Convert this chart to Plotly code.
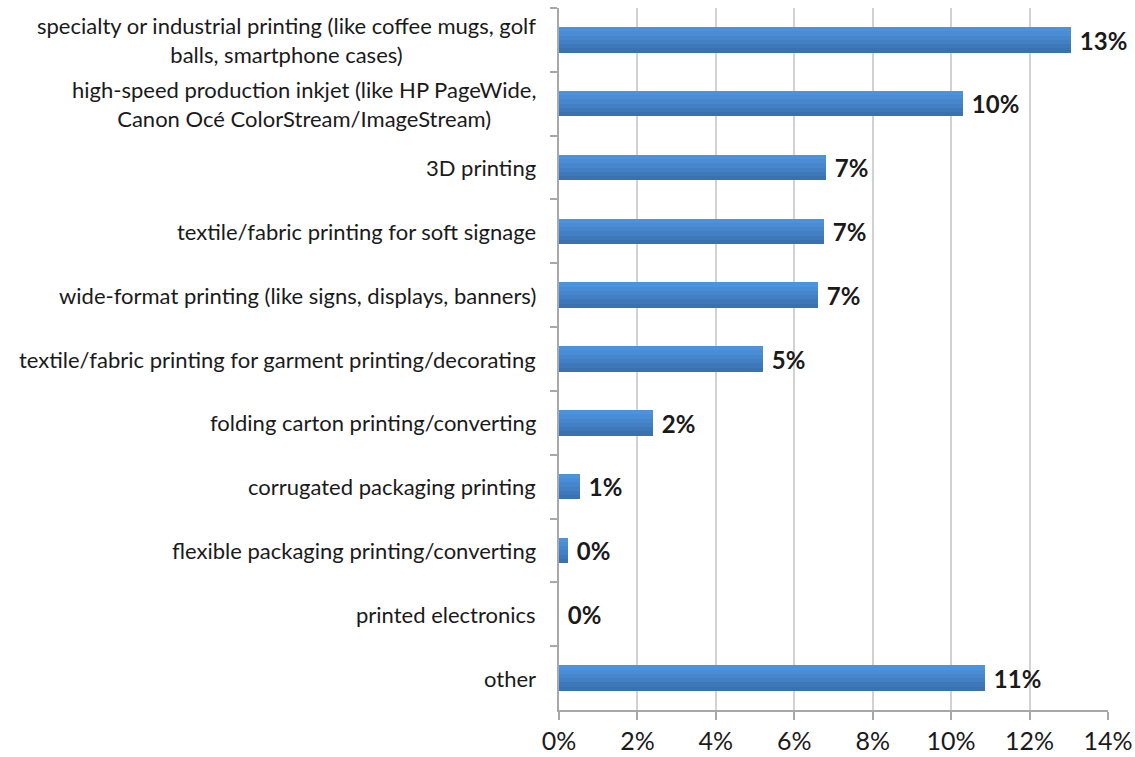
import plotly.graph_objects as go

# Share of respondents planning to add each printing type
categories = [
    "specialty or industrial printing (like coffee mugs, golf<br>balls, smartphone cases)",
    "high-speed production inkjet (like HP PageWide,<br>Canon Océ ColorStream/ImageStream)",
    "3D printing",
    "textile/fabric printing for soft signage",
    "wide-format printing (like signs, displays, banners)",
    "textile/fabric printing for garment printing/decorating",
    "folding carton printing/converting",
    "corrugated packaging printing",
    "flexible packaging printing/converting",
    "printed electronics",
    "other",
]
shares = [13.06, 10.3, 6.8, 6.75, 6.6, 5.2, 2.4, 0.54, 0.23, 0.0, 10.86]
x_ticks = [0, 2, 4, 6, 8, 10, 12, 14]
x_tick_labels = [f"{t}%" for t in x_ticks]

FONT = "Lato, 'Open Sans', sans-serif"
BAR_W = 0.40
# layered bands give the bars a light-top / dark-bottom sheen;
# each band runs from its start down to the bar's lower edge
shades = ["#4d93db", "#4a8dd4", "#4686cc", "#427fc3", "#3e78ba", "#3a71b0"]

fig = go.Figure()
n = len(shades)
step = BAR_W / n
for i, c in enumerate(shades):
    fig.add_trace(go.Bar(
        y=categories, x=shares, orientation="h",
        width=BAR_W - i * step, offset=-BAR_W / 2 + i * step,
        marker=dict(color=c, line=dict(width=0)),
        hoverinfo="skip", showlegend=False,
    ))

# value labels to the right of each bar
fig.add_trace(go.Bar(
    y=categories, x=shares, orientation="h",
    width=BAR_W, marker=dict(color="rgba(0,0,0,0)", line=dict(width=0)),
    texttemplate=" %{x:.0f}%", textposition="outside", constraintext="none",
    cliponaxis=False,
    textfont=dict(family=FONT, size=24, color="#1a1a1a", weight="bold"),
    showlegend=False,
))

# category labels, centred line by line
for cat in categories:
    fig.add_annotation(
        x=0, xref="x", y=cat, yref="y", text=cat, showarrow=False,
        xanchor="right", yanchor="middle", align="center", xshift=-21,
        font=dict(family=FONT, size=22, color="#1a1a1a"),
    )

fig.update_layout(
    width=1135, height=757,
    margin=dict(l=559, r=27, t=8, b=47, autoexpand=False),
    paper_bgcolor="white", plot_bgcolor="white",
    barmode="overlay", bargap=0,
)
fig.update_xaxes(
    range=[0, 14], tickvals=x_ticks, ticktext=x_tick_labels,
    showgrid=True, gridcolor="#d2d2d2", gridwidth=1.5,
    showline=True, linecolor="#a8a8a8", linewidth=1.5,
    ticks="outside", ticklen=8, tickcolor="#a8a8a8", tickwidth=1.5,
    tickfont=dict(family=FONT, size=25, color="#1a1a1a"),
    zeroline=False, fixedrange=True, automargin=False,
)
fig.update_yaxes(
    type="category", categoryorder="array", categoryarray=categories,
    autorange="reversed", showticklabels=False,
    showline=True, linecolor="#a8a8a8", linewidth=1.5,
    ticks="outside", tickson="boundaries", ticklen=7, tickcolor="#a8a8a8", tickwidth=1.5,
    showgrid=False, fixedrange=True, automargin=False,
)

fig.write_html("out.html")
